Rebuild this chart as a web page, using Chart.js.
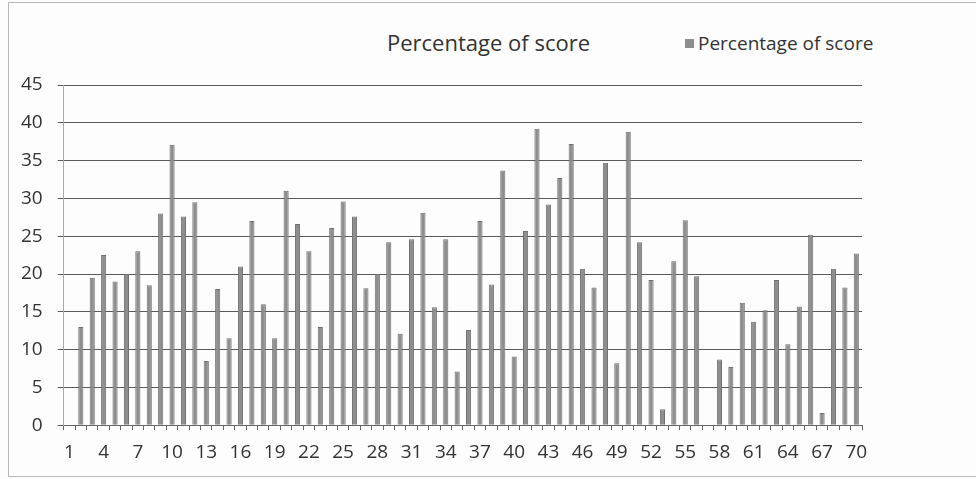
<!DOCTYPE html>
<html>
<head>
<meta charset="utf-8">
<script src="https://cdn.jsdelivr.net/npm/chart.js@4/dist/chart.umd.min.js"></script>
<style>
    html, body { margin: 0; padding: 0; background: #fdfdfd; }
    #wrap { position: relative; width: 976px; height: 479px; font-family: 'Open Sans', sans-serif; color: #333; }
    #frame { position: absolute; left: 8px; top: 2px; width: 970px; height: 475px; border: 1px solid #b8b8b8; border-right: none; box-sizing: border-box; }
    #title { position: absolute; left: 387px; top: 27px; font-size: 22px; line-height: 30px; white-space: nowrap; }
    #legend { position: absolute; left: 685px; top: 30px; font-size: 19px; line-height: 26px; white-space: nowrap; display: flex; align-items: center; }
    #legend span.box { display: inline-block; width: 9px; height: 9px; background: #8e8e8e; margin-right: 4px; }
    canvas { position: absolute; left: 0; top: 0; }
</style>
</head>
<body>
<div id="wrap">
    <div id="frame"></div>
    <div id="title">Percentage of score</div>
    <div id="legend"><span class="box"></span>Percentage of score</div>
    <canvas id="chart" width="976" height="479"></canvas>
</div>
<script>
const SERIES_NAME = 'Percentage of score';

// categories 1..70
const categories = [
    '1', '2', '3', '4', '5', '6', '7', '8', '9', '10',
    '11', '12', '13', '14', '15', '16', '17', '18', '19', '20',
    '21', '22', '23', '24', '25', '26', '27', '28', '29', '30',
    '31', '32', '33', '34', '35', '36', '37', '38', '39', '40',
    '41', '42', '43', '44', '45', '46', '47', '48', '49', '50',
    '51', '52', '53', '54', '55', '56', '57', '58', '59', '60',
    '61', '62', '63', '64', '65', '66', '67', '68', '69', '70'
];

const scores = [
    0, 13, 19.5, 22.5, 19, 20, 23, 18.5, 28, 37.1,
    27.6, 29.5, 8.5, 18, 11.5, 21, 27, 16, 11.5, 31,
    26.6, 23, 13, 26.1, 29.6, 27.6, 18.1, 20, 24.2, 12.1,
    24.6, 28.1, 15.6, 24.6, 7.1, 12.6, 27, 18.6, 33.7, 9.1,
    25.7, 39.2, 29.2, 32.7, 37.2, 20.7, 18.2, 34.7, 8.2, 38.8,
    24.2, 19.2, 2.1, 21.7, 27.1, 19.7, 0, 8.7, 7.7, 16.2,
    13.7, 15.2, 19.2, 10.7, 15.7, 25.2, 1.6, 20.7, 18.2, 22.7
];

// every third category gets a label: 1, 4, 7 ... 70
const xTickLabels = categories.filter((c, i) => i % 3 === 0);

const yTicks = { min: 0, max: 45, step: 5 };

const tickFont = { family: 'Open Sans', size: 19 };

new Chart(document.getElementById('chart'), {
    type: 'bar',
    data: {
        labels: categories,
        datasets: [{
            label: SERIES_NAME,
            data: scores,
            backgroundColor: '#8e8e8e',
            borderColor: '#707070',
            borderWidth: 1,
            barPercentage: 0.9,
            categoryPercentage: 0.5,
        }]
    },
    options: {
        responsive: false,
        animation: false,
        layout: { padding: { left: 6, right: 114, top: 85, bottom: 4 } },
        plugins: {
            legend: { display: false },
            title: { display: false },
            tooltip: { enabled: false }
        },
        scales: {
            x: {
                grid: { display: true, drawOnChartArea: false, drawTicks: true, tickLength: 5, color: '#666', offset: true },
                border: { color: '#666' },
                ticks: {
                    autoSkip: false,
                    maxRotation: 0,
                    font: tickFont,
                    color: '#333',
                    padding: 11,
                    callback: function (v, i) {
                        const lab = categories[i];
                        return xTickLabels.includes(lab) ? lab : '';
                    }
                }
            },
            y: {
                min: yTicks.min,
                max: yTicks.max,
                grid: { color: '#5a5a5a', drawTicks: true, tickLength: 6 },
                border: { color: '#aaa' },
                ticks: { stepSize: yTicks.step, font: tickFont, color: '#333', padding: 15 }
            }
        }
    }
});
</script>
</body>
</html>
